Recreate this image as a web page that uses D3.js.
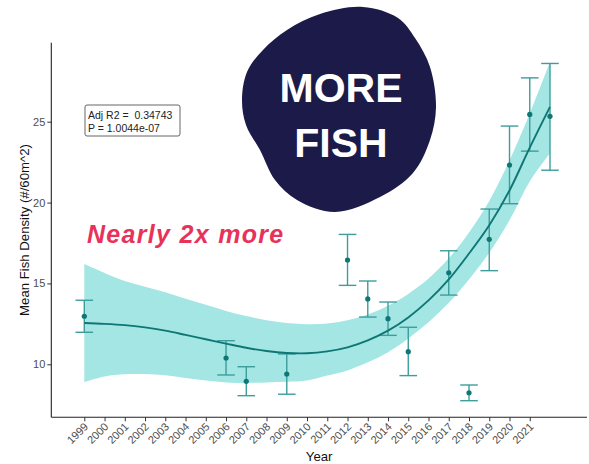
<!DOCTYPE html>
<html>
<head>
<meta charset="utf-8">
<script src="https://cdn.jsdelivr.net/npm/d3@7/dist/d3.min.js"></script>
<style>
  html, body { margin: 0; padding: 0; background: #fff; }
  svg { display: block; }
  text { font-family: "Liberation Sans", Arial, sans-serif; }
</style>
</head>
<body>
<svg id="chart" width="589" height="464"></svg>
<script>
// Survey means with error bar limits
const surveyYears = [1999, 2006, 2007, 2009, 2012, 2013, 2014, 2015, 2017, 2018, 2019, 2020, 2021, 2022];
const meanDensity = [12.97, 10.39, 8.95, 9.40, 16.45, 14.04, 12.82, 10.78, 15.66, 8.24, 17.73, 22.32, 25.45, 25.33];
const lowerLimit  = [11.98, 9.34, 8.06, 8.15, 14.88, 12.92, 11.79, 9.30, 14.28, 7.75, 15.79, 19.93, 23.18, 22.00];
const upperLimit  = [13.96, 11.46, 9.85, 10.64, 18.03, 15.15, 13.85, 12.29, 17.02, 8.72, 19.60, 24.73, 27.71, 28.60];

// Smoothed trend with its confidence band
const fitYears = [1999, 2000, 2001, 2002, 2003, 2004, 2005, 2006, 2007, 2008, 2009, 2010,
                  2011, 2012, 2013, 2014, 2015, 2016, 2017, 2018, 2019, 2020, 2021, 2022];
const fitMean  = [12.55, 12.50, 12.42, 12.28, 12.08, 11.82, 11.55, 11.28, 11.02, 10.82, 10.70, 10.68,
                  10.80, 11.05, 11.48, 12.08, 12.90, 13.95, 15.25, 16.85, 18.60, 20.75, 23.40, 25.92];
const fitLower = [8.90, 9.25, 9.38, 9.40, 9.32, 9.15, 9.00, 8.88, 8.85, 8.88, 8.92, 9.00,
                  9.30, 9.62, 10.12, 10.75, 11.60, 12.60, 13.80, 15.25, 16.90, 18.90, 21.30, 23.05];
const fitUpper = [16.20, 15.65, 15.15, 14.80, 14.45, 14.05, 13.68, 13.30, 12.98, 12.72, 12.56, 12.48,
                  12.52, 12.72, 13.08, 13.62, 14.35, 15.30, 16.55, 18.15, 20.10, 22.60, 25.50, 28.70];

// Axis ticks
const xTickYears = d3.range(1999, 2022);
const yTicks = [10, 15, 20, 25];

// Model summary text
const statLines = ["Adj R2 =  0.34743", "P = 1.0044e-07"];

const svg = d3.select("#chart");

const panel = { left: 51.3, right: 587, top: 42.7, bottom: 417.3 };

const x = d3.scaleLinear().domain([1999, 2022]).range([84.3, 550]);
const y = d3.scaleLinear().domain([10, 25]).range([364.3, 121.7]);

const teal = "#0f7676";
const barColor = "#3d9d9d";

// confidence band
const band = fitYears.map((yr, i) => ({ yr, lo: fitLower[i], hi: fitUpper[i], m: fitMean[i] }));
svg.append("path")
  .datum(band)
  .attr("fill", "#a3e6e4")
  .attr("d", d3.area()
    .curve(d3.curveCatmullRom)
    .x(d => x(d.yr))
    .y0(d => y(d.lo))
    .y1(d => y(d.hi)));

// error bars
const obs = surveyYears.map((yr, i) => ({ yr, m: meanDensity[i], lo: lowerLimit[i], hi: upperLimit[i] }));
const capHalf = 8.8;
const bars = svg.append("g")
  .attr("stroke", barColor)
  .attr("stroke-width", 1.4)
  .attr("fill", "none");
bars.selectAll("line.v").data(obs).join("line")
  .attr("class", "v")
  .attr("x1", d => x(d.yr)).attr("x2", d => x(d.yr))
  .attr("y1", d => y(d.lo)).attr("y2", d => y(d.hi));
bars.selectAll("line.top").data(obs).join("line")
  .attr("class", "top")
  .attr("x1", d => x(d.yr) - capHalf).attr("x2", d => x(d.yr) + capHalf)
  .attr("y1", d => y(d.hi)).attr("y2", d => y(d.hi));
bars.selectAll("line.bot").data(obs).join("line")
  .attr("class", "bot")
  .attr("x1", d => x(d.yr) - capHalf).attr("x2", d => x(d.yr) + capHalf)
  .attr("y1", d => y(d.lo)).attr("y2", d => y(d.lo));

// points
svg.append("g").selectAll("circle").data(obs).join("circle")
  .attr("cx", d => x(d.yr))
  .attr("cy", d => y(d.m))
  .attr("r", 2.6)
  .attr("fill", teal);

// trend line
svg.append("path")
  .datum(band)
  .attr("fill", "none")
  .attr("stroke", teal)
  .attr("stroke-width", 1.9)
  .attr("d", d3.line().curve(d3.curveCatmullRom).x(d => x(d.yr)).y(d => y(d.m)));

// axes
const xAxis = svg.append("g")
  .attr("transform", `translate(0,${panel.bottom})`)
  .call(d3.axisBottom(x).tickValues(xTickYears).tickFormat(d3.format("d")).tickSize(4).tickPadding(2));
xAxis.select(".domain").remove();
xAxis.selectAll(".tick line").attr("stroke", "#333");
xAxis.selectAll(".tick text")
  .attr("fill", "#4d4d4d")
  .attr("font-size", 11)
  .attr("text-anchor", "end")
  .attr("dy", null)
  .attr("y", null)
  .attr("transform", "translate(4,10) rotate(-45)");

const yAxis = svg.append("g")
  .attr("transform", `translate(${panel.left},0)`)
  .call(d3.axisLeft(y).tickValues(yTicks).tickSize(4).tickPadding(2));
yAxis.select(".domain").remove();
yAxis.selectAll(".tick line").attr("stroke", "#333");
yAxis.selectAll(".tick text").attr("fill", "#4d4d4d").attr("font-size", 11);

svg.append("line")
  .attr("x1", panel.left).attr("x2", panel.right)
  .attr("y1", panel.bottom).attr("y2", panel.bottom)
  .attr("stroke", "#222").attr("stroke-width", 1.1);
svg.append("line")
  .attr("x1", panel.left).attr("x2", panel.left)
  .attr("y1", panel.top).attr("y2", panel.bottom)
  .attr("stroke", "#222").attr("stroke-width", 1.1);

// axis titles
svg.append("text")
  .attr("x", (panel.left + panel.right) / 2)
  .attr("y", 461)
  .attr("text-anchor", "middle")
  .attr("font-size", 13.2)
  .attr("fill", "#111")
  .text("Year");
svg.append("text")
  .attr("transform", `translate(29,${(panel.top + panel.bottom) / 2}) rotate(-90)`)
  .attr("text-anchor", "middle")
  .attr("font-size", 13.2)
  .attr("fill", "#111")
  .text("Mean Fish Density (#/60m^2)");

// model summary box
svg.append("rect")
  .attr("x", 85).attr("y", 105)
  .attr("width", 95).attr("height", 31)
  .attr("rx", 2)
  .attr("fill", "#fff")
  .attr("stroke", "#666")
  .attr("stroke-width", 1);
svg.append("g").selectAll("text").data(statLines).join("text")
  .attr("x", 88)
  .attr("y", (d, i) => 118.5 + i * 13)
  .attr("font-size", 10.5)
  .attr("fill", "#222")
  .style("white-space", "pre")
  .text(d => d);

// annotation
svg.append("text")
  .attr("x", 87)
  .attr("y", 243)
  .attr("font-family", "Lato, 'Open Sans', sans-serif")
  .attr("font-weight", 700)
  .attr("font-style", "italic")
  .attr("font-size", 25)
  .attr("letter-spacing", 1.3)
  .attr("fill", "#e8325a")
  .text("Nearly 2x more");

// badge
const blobPts = [[242,100],[247,72],[263,50],[287,30],[320,14],[363,7],[398,18],[415,38],[430,67],
                 [436,107],[430,140],[413,173],[380,197],[335,212],[297,200],[275,180],[260,150],[246,125]];
svg.append("path")
  .attr("fill", "#1c1a48")
  .attr("d", d3.line().curve(d3.curveCatmullRomClosed)(blobPts));
const badgeLines = ["MORE", "FISH"];
svg.append("g").selectAll("text").data(badgeLines).join("text")
  .attr("x", 341)
  .attr("y", (d, i) => 101.7 + i * 55)
  .attr("text-anchor", "middle")
  .attr("font-family", "Lato, 'Open Sans', sans-serif")
  .attr("font-weight", 700)
  .attr("font-size", 41)
  .attr("fill", "#fff")
  .text(d => d);
</script>
</body>
</html>
